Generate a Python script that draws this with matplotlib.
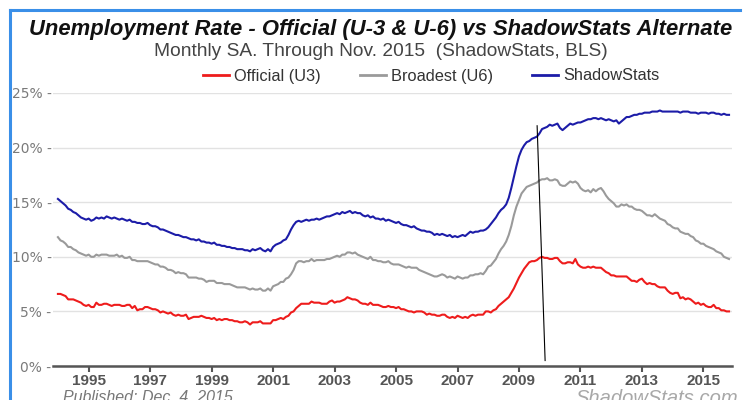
import numpy as np
import matplotlib
matplotlib.use("Agg")
import matplotlib.pyplot as plt
from matplotlib.lines import Line2D

# ---------------- data (monthly, Jan 1994 - Nov 2015) ----------------
start_year = 1994
u3 = [
    6.6, 6.6, 6.5, 6.4, 6.1, 6.1, 6.1, 6.0, 5.9, 5.8, 5.6, 5.5,   # 1994
    5.6, 5.4, 5.4, 5.8, 5.6, 5.6, 5.7, 5.7, 5.6, 5.5, 5.6, 5.6,   # 1995
    5.6, 5.5, 5.5, 5.6, 5.6, 5.3, 5.5, 5.1, 5.2, 5.2, 5.4, 5.4,   # 1996
    5.3, 5.2, 5.2, 5.1, 4.9, 5.0, 4.9, 4.8, 4.9, 4.7, 4.6, 4.7,   # 1997
    4.6, 4.6, 4.7, 4.3, 4.4, 4.5, 4.5, 4.5, 4.6, 4.5, 4.4, 4.4,   # 1998
    4.3, 4.4, 4.2, 4.3, 4.2, 4.3, 4.3, 4.2, 4.2, 4.1, 4.1, 4.0,   # 1999
    4.0, 4.1, 4.0, 3.8, 4.0, 4.0, 4.0, 4.1, 3.9, 3.9, 3.9, 3.9,   # 2000
    4.2, 4.2, 4.3, 4.4, 4.3, 4.5, 4.6, 4.9, 5.0, 5.3, 5.5, 5.7,   # 2001
    5.7, 5.7, 5.7, 5.9, 5.8, 5.8, 5.8, 5.7, 5.7, 5.7, 5.9, 6.0,   # 2002
    5.8, 5.9, 5.9, 6.0, 6.1, 6.3, 6.2, 6.1, 6.1, 6.0, 5.8, 5.7,   # 2003
    5.7, 5.6, 5.8, 5.6, 5.6, 5.6, 5.5, 5.4, 5.4, 5.5, 5.4, 5.4,   # 2004
    5.3, 5.4, 5.2, 5.2, 5.1, 5.0, 5.0, 4.9, 5.0, 5.0, 5.0, 4.9,   # 2005
    4.7, 4.8, 4.7, 4.7, 4.6, 4.6, 4.7, 4.7, 4.5, 4.4, 4.5, 4.4,   # 2006
    4.6, 4.5, 4.4, 4.5, 4.4, 4.6, 4.7, 4.6, 4.7, 4.7, 4.7, 5.0,   # 2007
    5.0, 4.9, 5.1, 5.2, 5.5, 5.7, 5.9, 6.1, 6.3, 6.7, 7.1, 7.6,   # 2008
    8.1, 8.5, 8.9, 9.2, 9.5, 9.6, 9.6, 9.7, 9.9, 10.0, 9.9, 9.9,  # 2009
    9.8, 9.8, 9.9, 9.9, 9.6, 9.4, 9.4, 9.5, 9.5, 9.4, 9.8, 9.3,   # 2010
    9.1, 9.0, 9.0, 9.1, 9.0, 9.1, 9.0, 9.0, 9.0, 8.8, 8.6, 8.5,   # 2011
    8.3, 8.3, 8.2, 8.2, 8.2, 8.2, 8.2, 8.0, 7.8, 7.8, 7.7, 7.9,   # 2012
    8.0, 7.7, 7.5, 7.6, 7.5, 7.5, 7.3, 7.2, 7.2, 7.2, 6.9, 6.7,   # 2013
    6.6, 6.7, 6.7, 6.2, 6.3, 6.1, 6.2, 6.1, 5.9, 5.7, 5.8, 5.6,   # 2014
    5.7, 5.5, 5.4, 5.4, 5.6, 5.3, 5.3, 5.1, 5.1, 5.0, 5.0,        # 2015
]
u6 = [
    11.8, 11.5, 11.4, 11.2, 10.9, 10.9, 10.7, 10.6, 10.4, 10.3, 10.2, 10.1,  # 1994
    10.2, 10.0, 10.0, 10.2, 10.1, 10.2, 10.2, 10.2, 10.1, 10.1, 10.1, 10.2,  # 1995
    10.0, 10.1, 9.9, 9.9, 10.0, 9.7, 9.7, 9.6, 9.6, 9.6, 9.6, 9.6,          # 1996
    9.5, 9.4, 9.3, 9.3, 9.1, 9.1, 9.0, 8.8, 8.8, 8.7, 8.5, 8.6,             # 1997
    8.5, 8.5, 8.4, 8.1, 8.1, 8.1, 8.1, 8.0, 8.0, 7.9, 7.7, 7.8,             # 1998
    7.8, 7.8, 7.6, 7.6, 7.6, 7.5, 7.5, 7.5, 7.4, 7.3, 7.2, 7.2,             # 1999
    7.2, 7.2, 7.1, 7.0, 7.1, 7.0, 7.0, 7.1, 6.9, 6.9, 7.1, 6.9,             # 2000
    7.3, 7.4, 7.5, 7.7, 7.7, 8.0, 8.1, 8.4, 8.8, 9.4, 9.6, 9.6,             # 2001
    9.5, 9.6, 9.6, 9.8, 9.6, 9.7, 9.7, 9.7, 9.7, 9.8, 9.8, 9.9,             # 2002
    10.0, 10.1, 10.0, 10.2, 10.2, 10.4, 10.4, 10.3, 10.4, 10.2, 10.1, 10.0, # 2003
    9.9, 9.8, 10.0, 9.7, 9.7, 9.6, 9.6, 9.5, 9.5, 9.6, 9.4, 9.3,            # 2004
    9.3, 9.3, 9.2, 9.1, 9.0, 9.1, 9.0, 9.0, 9.0, 8.8, 8.7, 8.6,             # 2005
    8.5, 8.4, 8.3, 8.2, 8.2, 8.3, 8.4, 8.3, 8.1, 8.2, 8.1, 8.0,             # 2006
    8.2, 8.1, 8.0, 8.1, 8.1, 8.3, 8.3, 8.4, 8.4, 8.5, 8.4, 8.7,             # 2007
    9.1, 9.2, 9.5, 9.8, 10.3, 10.7, 11.0, 11.4, 12.0, 12.8, 13.8, 14.6,     # 2008
    15.2, 15.8, 16.1, 16.4, 16.5, 16.6, 16.7, 16.8, 17.0, 17.1, 17.1, 17.2, # 2009
    17.0, 17.0, 17.1, 17.0, 16.6, 16.5, 16.5, 16.7, 16.9, 16.8, 16.9, 16.7, # 2010
    16.3, 16.1, 16.0, 16.1, 15.9, 16.2, 16.0, 16.2, 16.3, 16.0, 15.6, 15.3, # 2011
    15.1, 14.9, 14.6, 14.6, 14.8, 14.7, 14.8, 14.6, 14.6, 14.4, 14.3, 14.3, # 2012
    14.2, 14.0, 13.8, 13.8, 13.7, 13.9, 13.7, 13.5, 13.4, 13.3, 13.0, 12.9, # 2013
    12.7, 12.6, 12.6, 12.3, 12.2, 12.1, 12.1, 11.9, 11.8, 11.5, 11.4, 11.2, # 2014
    11.2, 11.0, 10.9, 10.8, 10.7, 10.5, 10.4, 10.3, 10.0, 9.9, 9.8,         # 2015
]
shadowstats = [
    15.3, 15.1, 14.9, 14.7, 14.4, 14.3, 14.1, 14.0, 13.8, 13.6, 13.5, 13.4,  # 1994
    13.5, 13.3, 13.4, 13.6, 13.5, 13.6, 13.5, 13.7, 13.6, 13.5, 13.6, 13.5,  # 1995
    13.4, 13.5, 13.4, 13.3, 13.4, 13.2, 13.2, 13.1, 13.1, 13.0, 13.0, 13.1,  # 1996
    12.9, 12.8, 12.8, 12.7, 12.5, 12.5, 12.4, 12.3, 12.2, 12.1, 12.0, 12.0,  # 1997
    11.9, 11.8, 11.8, 11.7, 11.6, 11.6, 11.5, 11.6, 11.4, 11.4, 11.3, 11.3,  # 1998
    11.2, 11.3, 11.1, 11.1, 11.0, 11.0, 10.9, 10.9, 10.8, 10.8, 10.7, 10.7,  # 1999
    10.7, 10.6, 10.6, 10.5, 10.7, 10.6, 10.7, 10.8, 10.6, 10.5, 10.7, 10.5,  # 2000
    10.9, 11.1, 11.2, 11.3, 11.5, 11.6, 12.0, 12.5, 12.9, 13.2, 13.3, 13.2,  # 2001
    13.3, 13.4, 13.3, 13.4, 13.4, 13.5, 13.4, 13.5, 13.6, 13.7, 13.7, 13.8,  # 2002
    13.9, 14.0, 13.9, 14.1, 14.0, 14.1, 14.2, 14.0, 14.1, 14.0, 14.0, 13.8,  # 2003
    13.7, 13.8, 13.6, 13.7, 13.5, 13.5, 13.4, 13.5, 13.3, 13.4, 13.3, 13.2,  # 2004
    13.1, 13.2, 13.0, 12.9, 12.9, 12.8, 12.7, 12.8, 12.6, 12.5, 12.4, 12.4,  # 2005
    12.3, 12.3, 12.2, 12.0, 12.1, 12.0, 12.1, 12.0, 11.9, 12.0, 11.8, 11.9,  # 2006
    11.8, 11.9, 12.0, 11.9, 12.1, 12.3, 12.2, 12.3, 12.3, 12.4, 12.4, 12.5,  # 2007
    12.7, 13.0, 13.3, 13.6, 14.0, 14.3, 14.5, 14.8, 15.4, 16.3, 17.3, 18.3,  # 2008
    19.2, 19.8, 20.2, 20.5, 20.6, 20.8, 20.9, 21.0, 21.3, 21.7, 21.8, 21.9,  # 2009
    22.1, 22.0, 22.1, 22.2, 21.8, 21.6, 21.8, 22.0, 22.2, 22.1, 22.2, 22.3,  # 2010
    22.3, 22.4, 22.5, 22.6, 22.6, 22.7, 22.7, 22.6, 22.7, 22.6, 22.5, 22.6,  # 2011
    22.5, 22.4, 22.5, 22.2, 22.4, 22.6, 22.8, 22.8, 22.9, 23.0, 23.0, 23.1,  # 2012
    23.1, 23.2, 23.2, 23.2, 23.3, 23.3, 23.3, 23.4, 23.3, 23.3, 23.3, 23.3,  # 2013
    23.3, 23.3, 23.3, 23.2, 23.3, 23.3, 23.3, 23.2, 23.2, 23.2, 23.1, 23.2,  # 2014
    23.2, 23.2, 23.1, 23.2, 23.2, 23.1, 23.1, 23.0, 23.1, 23.0, 23.0,        # 2015
]
series_names = ["Official (U3)", "Broadest (U6)", "ShadowStats"]
series_colors = ["#ee1c1c", "#9a9a9a", "#1c1ca8"]
year_ticks = list(range(1995, 2016, 2))
y_ticks = [0, 5, 10, 15, 20, 25]
# hand-drawn annotation line (year, percent)
marker_line_x = [2009.59, 2009.85]
marker_line_y = [22.0, 0.5]

months = np.arange(len(u3))
x = start_year + months / 12.0

# ---------------- figure ----------------
W, H = 749, 400
fig = plt.figure(figsize=(W / 100, H / 100), dpi=100)
fig.patch.set_facecolor("white")

ax = fig.add_axes([53 / W, 34 / H, (732 - 53) / W, 273 / H])
ax.set_facecolor("white")

for vals, name, col in zip([u3, u6, shadowstats], series_names, series_colors):
    ax.plot(x, vals, color=col, lw=1.5, label=name, zorder=3)

ax.plot(marker_line_x, marker_line_y, color="black", lw=0.8, zorder=4)

ax.set_xlim(1993.84, 2015.93)
ax.set_ylim(0, 25)
ax.set_yticks(y_ticks)
ax.set_yticklabels([f"{v}% -" for v in y_ticks], color="#7a7a7a",
                   fontsize=10, family="DejaVu Sans")
ax.tick_params(axis="y", length=0, pad=1)
ax.set_xticks(year_ticks)
ax.set_xticklabels([str(y) for y in year_ticks],
                   family=["Liberation Sans Narrow", "Liberation Sans", "DejaVu Sans"],
                   fontweight="bold", fontsize=11, color="#555555")
ax.tick_params(axis="x", direction="out", length=4, width=1.5,
               color="#555555", pad=2)
ax.grid(axis="y", color="#e2e2e2", lw=1.0, zorder=0)
ax.set_axisbelow(True)
for s in ["top", "right", "left"]:
    ax.spines[s].set_visible(False)
ax.spines["bottom"].set_color("#555555")
ax.spines["bottom"].set_linewidth(1.8)

# ---------------- titles ----------------
fig.text(381 / W, 1 - 30 / H,
         "Unemployment Rate - Official (U-3 & U-6) vs ShadowStats Alternate",
         ha="center", va="center", fontsize=15.8, fontweight="bold",
         fontstyle="italic", family="Liberation Sans", color="#111111")
fig.text(381 / W, 1 - 52 / H,
         "Monthly SA. Through Nov. 2015  (ShadowStats, BLS)",
         ha="center", va="center", fontsize=13.8, family="Liberation Sans",
         color="#444444")

handles = [Line2D([0], [0], color=c, lw=2) for c in series_colors]
fig.legend(handles, series_names, loc="center", bbox_to_anchor=(431 / W, 1 - 76 / H),
           ncol=3, frameon=False, handlelength=1.6, handletextpad=0.3,
           columnspacing=2.4, prop={"family": "Liberation Sans", "size": 11.8},
           labelcolor="#333333")

# ---------------- footer ----------------
fig.text(63 / W, 1 - 398 / H, "Published: Dec. 4, 2015", ha="left", va="center",
         fontsize=11.5, fontstyle="italic", family="Liberation Sans", color="#777777")
fig.text(738 / W, 1 - 389 / H, "ShadowStats.com", ha="right", va="top",
         fontsize=14.5, fontstyle="italic", family="Liberation Sans", color="#a8a8a8")

# ---------------- frame border ----------------
fig.add_artist(Line2D([10 / W, 10 / W], [0, 1 - 10 / H], transform=fig.transFigure,
                      color="#3a8fe8", lw=2.2))
fig.add_artist(Line2D([10 / W, 740 / W], [1 - 10 / H, 1 - 10 / H], transform=fig.transFigure,
                      color="#3a8fe8", lw=2.2))

fig.savefig("out.png", dpi=100, facecolor="white")
